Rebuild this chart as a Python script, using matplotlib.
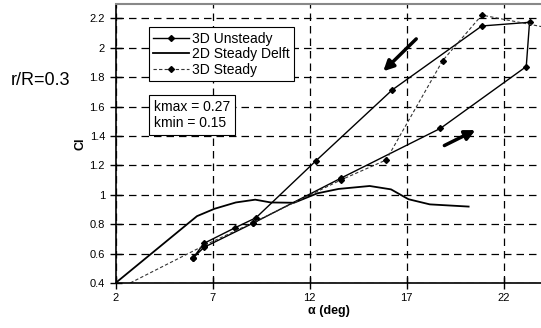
import matplotlib.pyplot as plt

# 3D unsteady hysteresis loop (up-stroke then down-stroke)
alpha_unsteady = [5.98, 6.56, 9.07, 13.6, 18.75, 23.17, 23.34, 20.88, 16.26, 12.32, 9.24, 8.16, 6.56, 5.98]
cl_unsteady = [0.568, 0.643, 0.806, 1.112, 1.452, 1.872, 2.173, 2.148, 1.713, 1.23, 0.844, 0.776, 0.67, 0.568]

# 2D steady measurements (Delft)
alpha_delft = [2.0, 6.2, 7.1, 8.2, 9.2, 10.0, 11.2, 12.4, 13.5, 15.1, 16.2, 17.1, 18.2, 20.2]
cl_delft = [0.40, 0.855, 0.905, 0.948, 0.967, 0.948, 0.946, 1.01, 1.04, 1.06, 1.037, 0.97, 0.935, 0.92]

# 3D steady
alpha_steady = [2.0, 6.56, 9.07, 13.6, 15.95, 18.86, 20.88, 25.0]
cl_steady = [0.35, 0.655, 0.81, 1.10, 1.237, 1.912, 2.222, 2.117]

x_ticks = [2, 7, 12, 17, 22]
y_ticks = [0.4, 0.6, 0.8, 1.0, 1.2, 1.4, 1.6, 1.8, 2.0, 2.2]

plt.rcParams['font.family'] = ['Liberation Sans', 'DejaVu Sans']

fig = plt.figure(figsize=(5.41, 3.28), dpi=100)
ax = fig.add_axes([0.2135, 0.137, 0.789, 0.852])

ax.plot(alpha_unsteady, cl_unsteady, color='black', lw=1.0, marker='D', ms=3,
        label='3D Unsteady')
ax.plot(alpha_delft, cl_delft, color='black', lw=1.3, label='2D Steady Delft')
ax.plot(alpha_steady, cl_steady, color='#333333', lw=0.8, ls=(0, (3, 2)),
        marker='D', ms=3, mfc='black', mec='black', label='3D Steady')

# direction of the loop
arrow_style = dict(arrowstyle='-|>,head_width=0.3,head_length=0.6',
                   color='black', lw=2.5, shrinkA=0, shrinkB=0)
ax.annotate('', xy=(15.8, 1.84), xytext=(17.5, 2.06), arrowprops=arrow_style)
ax.annotate('', xy=(20.55, 1.44), xytext=(18.95, 1.335), arrowprops=arrow_style)

ax.set_xlim(2, 24)
ax.set_ylim(0.4, 2.3)
ax.set_xticks(x_ticks)
ax.set_yticks(y_ticks)
ax.set_yticklabels(['%g' % v for v in y_ticks])
ax.tick_params(direction='inout', length=8, width=1, labelsize=8, colors='black')
ax.grid(True, color='black', ls=(0, (6, 4)), lw=0.9)

ax.spines['right'].set_visible(False)
ax.spines['top'].set_color('#888888')
ax.spines['top'].set_linewidth(1.5)
ax.spines['left'].set_linewidth(1.2)
ax.spines['bottom'].set_linewidth(1.2)

ax.set_xlabel('α (deg)', fontsize=9, fontweight='bold', labelpad=1)
ax.set_ylabel('Cl', fontsize=9, fontweight='bold', labelpad=2)

leg = ax.legend(loc='upper left', bbox_to_anchor=(0.078, 0.915), fontsize=10,
                frameon=True, fancybox=False, edgecolor='black', framealpha=1,
                borderpad=0.3, labelspacing=0.12, handlelength=2.6,
                handletextpad=0.2, borderaxespad=0)
leg.get_frame().set_linewidth(0.8)

ax.text(0.09, 0.655, 'kmax = 0.27\nkmin = 0.15', transform=ax.transAxes,
        fontsize=10, va='top', linespacing=1.15,
        bbox=dict(boxstyle='square,pad=0.35', fc='white', ec='black', lw=0.8))

fig.text(0.02, 0.755, 'r/R=0.3', fontsize=13, va='center')

fig.savefig('out.png', dpi=100)
